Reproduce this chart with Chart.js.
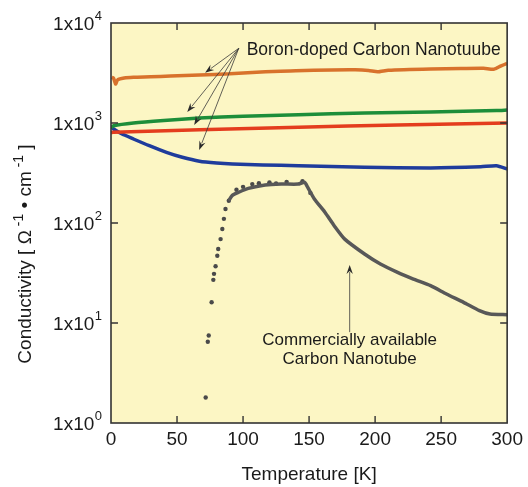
<!DOCTYPE html>
<html>
<head>
<meta charset="utf-8">
<script src="https://cdn.jsdelivr.net/npm/chart.js@4.4.1/dist/chart.umd.min.js"></script>
<style>
  html, body { margin: 0; padding: 0; background: #fff; }
  #wrap { width: 528px; height: 487px; }
</style>
</head>
<body>
<div id="wrap"><canvas id="cnt"></canvas></div>
<script>
// Temperatura [K] e condutividade
const orangeT = [0.5, 2, 3.5, 5, 10, 17, 30, 45, 67, 90, 117, 140, 167, 185, 195, 202, 210, 242, 265, 282, 290, 295, 300];
const orangeV = [2870, 2800, 2450, 2700, 2820, 2870, 2900, 2950, 3020, 3100, 3260, 3330, 3390, 3400, 3350, 3250, 3370, 3470, 3500, 3520, 3450, 3700, 3950];

const greenT = [0, 2, 17, 40, 67, 100, 142, 192, 242, 292, 300];
const greenV = [900, 940, 1000, 1060, 1122, 1170, 1210, 1260, 1290, 1330, 1350];

const redT = [0, 2, 67, 142, 217, 300];
const redV = [800, 807, 858, 906, 955, 1000];

const blueT = [0, 2, 8, 17, 29, 42, 54, 67, 80, 92, 115, 142, 192, 242, 280, 292, 300];
const blueV = [920, 871, 780, 692, 593, 509, 454, 415, 398, 389, 380, 374, 360, 355, 365, 374, 347];

// Nanotubo comercial: pontos isolados na subida + curva densa
const dotsT = [71.7, 73.3, 74, 76.2, 77.5, 78, 79.2, 80.5, 81.2, 83, 84.3, 85.5, 86.7, 89.2, 95, 100, 107, 112, 120, 125, 133, 145, 151];
const dotsV = [1.8, 6.5, 7.5, 16.1, 27, 31, 37, 47, 55, 69, 87, 110, 138, 167, 215, 230, 245, 250, 255, 248, 258, 262, 200];

const commT = [89.2, 91.7, 96.7, 104, 116.7, 129, 141.7, 146.7, 149, 154, 162, 169, 177, 192, 204, 217, 229, 242, 254, 267, 279, 287, 300];
const commV = [167, 188, 203, 222, 240, 245, 245, 255, 227, 174, 128, 94, 69, 49, 38.9, 32.1, 27.5, 23.6, 19.5, 16.1, 13.3, 12.3, 12.1];

const xTicks = [0, 50, 100, 150, 200, 250, 300];
const yTicks = [1, 10, 100, 1000, 10000];

// Anotações (em coordenadas de dados)
const boronLabel = 'Boron-doped Carbon Nanotuube';
const boronLabelAt = [102.75, 5410];
const boronArrowFrom = [96.75, 5585];
const boronArrowTips = [[71.25, 3184], [57.75, 1288], [63, 955], [66.75, 537]];

const commLabel = ['Commercially available', 'Carbon Nanotube'];
const commLabelAt = [[180.75, 6.76], [180.75, 4.3]];
const commArrowFrom = [180.75, 8.1];
const commArrowTo = [180.75, 38];

const FONT = '"Liberation Sans", Arial, Helvetica, sans-serif';
Chart.defaults.font.family = FONT;

const pts = (xs, ys) => xs.map((x, i) => ({ x: x, y: ys[i] }));

const lineSet = (xs, ys, color) => ({
    data: pts(xs, ys),
    borderColor: color,
    borderWidth: 3.5,
    pointRadius: 0,
    tension: 0.2,
    fill: false
});

const drawArrow = (ctx, x0, y0, x1, y1) => {
    const ang = Math.atan2(y1 - y0, x1 - x0);
    const len = 9, half = 3.2;
    ctx.beginPath();
    ctx.moveTo(x0, y0);
    ctx.lineTo(x1 - Math.cos(ang) * (len - 2), y1 - Math.sin(ang) * (len - 2));
    ctx.stroke();
    ctx.beginPath();
    ctx.moveTo(x1, y1);
    ctx.lineTo(x1 - Math.cos(ang) * len - Math.sin(ang) * half, y1 - Math.sin(ang) * len + Math.cos(ang) * half);
    ctx.lineTo(x1 - Math.cos(ang) * (len - 3), y1 - Math.sin(ang) * (len - 3));
    ctx.lineTo(x1 - Math.cos(ang) * len + Math.sin(ang) * half, y1 - Math.sin(ang) * len - Math.cos(ang) * half);
    ctx.closePath();
    ctx.fill();
};

// fundo amarelo, moldura, ticks internos, rótulos com expoente e anotações
const decor = {
    id: 'decor',
    beforeDatasetsDraw(chart) {
        const { ctx, chartArea: a } = chart;
        ctx.save();
        ctx.fillStyle = '#fcf6c4';
        ctx.fillRect(a.left, a.top, a.right - a.left, a.bottom - a.top);
        ctx.restore();
    },
    afterDraw(chart) {
        const { ctx, chartArea: a } = chart;
        const xs = chart.scales.x, ys = chart.scales.y;
        ctx.save();

        // moldura
        ctx.strokeStyle = '#333';
        ctx.lineWidth = 1.6;
        ctx.strokeRect(a.left, a.top, a.right - a.left, a.bottom - a.top);

        // ticks para dentro
        ctx.lineWidth = 1.4;
        ctx.beginPath();
        xTicks.slice(1, -1).forEach(t => {
            const px = xs.getPixelForValue(t);
            ctx.moveTo(px, a.bottom); ctx.lineTo(px, a.bottom - 7);
            ctx.moveTo(px, a.top); ctx.lineTo(px, a.top + 7);
        });
        yTicks.slice(1, -1).forEach(v => {
            const py = ys.getPixelForValue(v);
            ctx.moveTo(a.left, py); ctx.lineTo(a.left + 7, py);
            ctx.moveTo(a.right, py); ctx.lineTo(a.right - 7, py);
        });
        ctx.stroke();

        // rótulos do eixo y: 1x10^n
        ctx.fillStyle = '#1a1a1a';
        ctx.textAlign = 'left';
        ctx.textBaseline = 'middle';
        yTicks.forEach(v => {
            const py = ys.getPixelForValue(v);
            const exp = String(Math.round(Math.log10(v)));
            ctx.font = '13px ' + FONT;
            const supW = ctx.measureText(exp).width;
            ctx.font = '19px ' + FONT;
            const mainW = ctx.measureText('1x10').width;
            const x0 = a.left - 9 - supW - mainW - 0.5;
            ctx.fillText('1x10', x0, py + 1.5);
            ctx.font = '13px ' + FONT;
            ctx.fillText(exp, x0 + mainW + 0.5, py - 7);
        });

        // título do eixo y (girado)
        const parts = [
            ['Conductivity [ Ω', false], [' -1', true], [' • cm', false], [' -1', true], [' ]', false]
        ];
        const fMain = '19px ' + FONT, fSup = '14px ' + FONT;
        let total = 0;
        parts.forEach(p => {
            ctx.font = p[1] ? fSup : fMain;
            total += ctx.measureText(p[0]).width;
        });
        ctx.translate(26, 254);
        ctx.rotate(-Math.PI / 2);
        let cx = -total / 2;
        parts.forEach(p => {
            ctx.font = p[1] ? fSup : fMain;
            ctx.fillText(p[0], cx, p[1] ? -6.5 : 0);
            cx += ctx.measureText(p[0]).width;
        });
        ctx.setTransform(1, 0, 0, 1, 0, 0);

        // anotações
        ctx.font = '17.5px ' + FONT;
        ctx.fillStyle = '#1a1a1a';
        ctx.textAlign = 'left';
        ctx.fillText(boronLabel, xs.getPixelForValue(boronLabelAt[0]), ys.getPixelForValue(boronLabelAt[1]));
        ctx.textAlign = 'center';
        ctx.font = '17px ' + FONT;
        commLabel.forEach((txt, i) => {
            ctx.fillText(txt, xs.getPixelForValue(commLabelAt[i][0]), ys.getPixelForValue(commLabelAt[i][1]));
        });

        ctx.strokeStyle = '#3a3a3a';
        ctx.fillStyle = '#2a2a2a';
        ctx.lineWidth = 0.8;
        const fx = xs.getPixelForValue(boronArrowFrom[0]), fy = ys.getPixelForValue(boronArrowFrom[1]);
        boronArrowTips.forEach(tp => {
            drawArrow(ctx, fx, fy, xs.getPixelForValue(tp[0]), ys.getPixelForValue(tp[1]));
        });
        drawArrow(ctx, xs.getPixelForValue(commArrowFrom[0]), ys.getPixelForValue(commArrowFrom[1]),
            xs.getPixelForValue(commArrowTo[0]), ys.getPixelForValue(commArrowTo[1]));

        ctx.restore();
    }
};

new Chart(document.getElementById('cnt'), {
    type: 'line',
    data: {
        datasets: [
            lineSet(orangeT, orangeV, '#d8722c'),
            lineSet(greenT, greenV, '#1d8e3a'),
            lineSet(redT, redV, '#e43d1e'),
            lineSet(blueT, blueV, '#1f3c9c'),
            {
                data: pts(commT, commV),
                borderColor: '#585858',
                borderWidth: 3.5,
                pointRadius: 0,
                tension: 0.2,
                fill: false
            },
            {
                data: pts(dotsT, dotsV),
                showLine: false,
                pointRadius: 2.2,
                pointBorderWidth: 0,
                pointBackgroundColor: '#4a4a4a'
            }
        ]
    },
    options: {
        responsive: true,
        maintainAspectRatio: false,
        animation: false,
        events: [],
        layout: { padding: { top: 23, right: 16, left: 0, bottom: 0 } },
        plugins: { legend: { display: false }, tooltip: { enabled: false } },
        scales: {
            x: {
                type: 'linear',
                min: 0, max: 300,
                afterBuildTicks: (s) => { s.ticks = xTicks.map(v => ({ value: v })); },
                afterFit: (s) => { s.height = 64; },
                grid: { display: false, drawTicks: false },
                border: { display: false },
                ticks: { color: '#1a1a1a', font: { size: 19 }, padding: 5, maxRotation: 0 },
                title: { display: true, text: 'Temperature [K]', color: '#1a1a1a', font: { size: 19 }, padding: { top: 0, bottom: 1 } }
            },
            y: {
                type: 'logarithmic',
                min: 1, max: 10000,
                afterBuildTicks: (s) => { s.ticks = yTicks.map(v => ({ value: v })); },
                afterFit: (s) => { s.width = 111; },
                grid: { display: false, drawTicks: false },
                border: { display: false },
                ticks: { display: false }
            }
        }
    },
    plugins: [decor]
});
</script>
</body>
</html>
